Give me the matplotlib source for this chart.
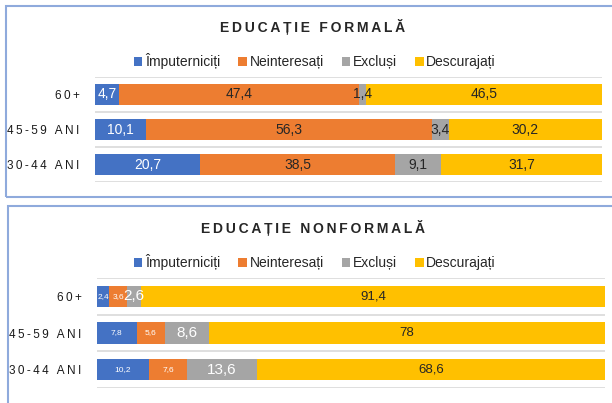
import matplotlib.pyplot as plt
from matplotlib.patches import Rectangle, Patch

# data
groups = ['30-44 ANI', '45-59 ANI', '60+']
series = ['Împuterniciți', 'Neinteresați', 'Excluși', 'Descurajați']
colors = ['#4472C4', '#ED7D31', '#A5A5A5', '#FFC000']

formal = {
    'Împuterniciți': [20.7, 10.1, 4.7],
    'Neinteresați': [38.5, 56.3, 47.4],
    'Excluși': [9.1, 3.4, 1.4],
    'Descurajați': [31.7, 30.2, 46.5],
}
nonformal = {
    'Împuterniciți': [10.2, 7.8, 2.4],
    'Neinteresați': [7.6, 5.6, 3.6],
    'Excluși': [13.6, 8.6, 2.6],
    'Descurajați': [68.6, 78, 91.4],
}

FONT = ['Liberation Sans', 'DejaVu Sans']
plt.rcParams['font.family'] = FONT

W, H = 612, 403
fig = plt.figure(figsize=(W / 100, H / 100), dpi=100)


def spaced(s):
    # rough letter spacing with thin spaces
    return '\u2009'.join(s)


def fx(px):
    return px / W


def fy(py):
    return 1 - py / H


def panel(data, box, ax_px, title, title_y, legend_y, lab_colors, lab_sizes):
    x0, y0, y1 = box
    fig.patches.append(Rectangle((fx(x0), fy(y1)), 1.2, fy(y0) - fy(y1),
                                 transform=fig.transFigure, fill=False,
                                 edgecolor='#8FAADC', linewidth=1.5))
    fig.text(fx(313), fy(title_y), spaced(title), ha='center', va='center',
             fontsize=10, fontweight='bold', color='#262626')

    left, right, top, bottom = ax_px
    ax = fig.add_axes([fx(left), fy(bottom), fx(right - left), fy(top) - fy(bottom)])
    ypos = range(len(groups))
    base = [0.0] * len(groups)
    for name, col, lc, ls in zip(series, colors, lab_colors, lab_sizes):
        vals = data[name]
        bars = ax.barh(ypos, vals, left=base, height=0.58, color=col, zorder=2)
        for rect, v in zip(bars, vals):
            ax.text(rect.get_x() + rect.get_width() / 2, rect.get_y() + rect.get_height() / 2,
                    f'{v:g}'.replace('.', ','), ha='center', va='center',
                    fontsize=ls, color=lc, zorder=3)
        base = [b + v for b, v in zip(base, vals)]

    ax.set_xlim(0, 100)
    ax.set_ylim(-0.5, len(groups) - 0.5)
    for g in [-0.5, 0.5, 1.5, 2.5]:
        ax.axhline(g, color='#D9D9D9', linewidth=1.2, zorder=1)
    ax.set_yticks(list(ypos))
    ax.set_yticklabels([spaced(g) for g in groups], fontsize=8.5, color='#1a1a1a')
    ax.tick_params(axis='y', length=0, pad=11)
    ax.set_xticks([])
    for sp in ax.spines.values():
        sp.set_visible(False)

    handles = [Patch(facecolor=c, edgecolor='none') for c in colors]
    fig.legend(handles, series, loc='center', bbox_to_anchor=(fx(315), fy(legend_y)),
               ncol=4, frameon=False, fontsize=10, handlelength=0.6, handleheight=0.6,
               handletextpad=0.2, columnspacing=1.3, labelcolor='#262626')
    return ax


panel(formal, (6, 5.5, 197), (95, 602, 77, 182), 'EDUCAȚIE FORMALĂ', 27, 61,
      ['white', '#262626', '#262626', '#262626'], [10, 10, 10, 10])
panel(nonformal, (8, 206, 460), (97, 605, 278, 388), 'EDUCAȚIE NONFORMALĂ', 228, 262,
      ['white', 'white', 'white', '#262626'], [6, 6, 11, 9.5])

fig.savefig('out.png', dpi=100)
